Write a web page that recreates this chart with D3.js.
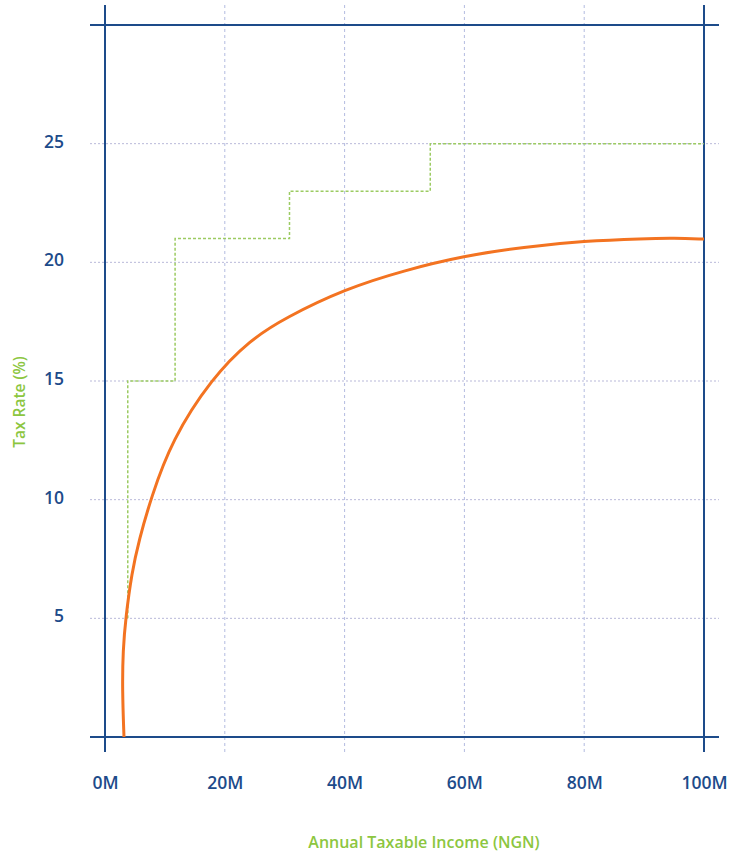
<!DOCTYPE html>
<html>
<head>
<meta charset="utf-8">
<script src="https://cdn.jsdelivr.net/npm/d3@7"></script>
<style>
  body { margin: 0; background: #fff; }
  text { font-family: "Open Sans", sans-serif; }
</style>
</head>
<body>
<div id="chart"></div>
<script>
// chart data (income in millions of NGN, rate in %)
var xTicks = [0, 20, 40, 60, 80, 100];
var yTicks = [5, 10, 15, 20, 25];

// marginal band steps
var stepIncome = [3.8, 3.8, 11.7, 30.8, 54.3, 100];
var stepRate   = [5, 15, 21, 23, 25, 25];

// effective rate curve
var effIncome = [3.17, 2.89, 3.0, 3.46, 4.46, 5.68, 7.68, 11.14, 17.86, 24.21, 30.05, 40.07, 49.92, 59.93, 69.95, 79.97, 89.98, 95, 100];
var effRate   = [0, 1.98, 3.67, 5.03, 6.91, 8.3, 10.07, 12.51, 15.13, 16.73, 17.66, 18.88, 19.66, 20.27, 20.65, 20.9, 21.0, 21.02, 20.98];

var width = 750, height = 854;
var navy = "#1d4b8a";
var ext = 15; // how far the frame lines run past the plot

var x = d3.scaleLinear().domain([0, 100]).range([105, 704]);
var y = d3.scaleLinear().domain([0, 30]).range([737, 25]);

var svg = d3.select("#chart").append("svg")
    .attr("width", width)
    .attr("height", height);

// horizontal grid
svg.append("g").selectAll("line")
    .data(yTicks)
    .enter().append("line")
    .attr("x1", x(0) - ext)
    .attr("x2", x(100) + ext)
    .attr("y1", function(d) { return y(d); })
    .attr("y2", function(d) { return y(d); })
    .attr("stroke", "#b9b9d9")
    .attr("stroke-width", 1)
    .attr("stroke-dasharray", "2,2");

// vertical grid
svg.append("g").selectAll("line")
    .data(xTicks.slice(1, -1))
    .enter().append("line")
    .attr("x1", function(d) { return x(d); })
    .attr("x2", function(d) { return x(d); })
    .attr("y1", y(30) - 20)
    .attr("y2", y(0) + ext)
    .attr("stroke", "#b3bbe0")
    .attr("stroke-width", 1)
    .attr("stroke-dasharray", "3,3");

// frame lines
var frame = svg.append("g")
    .attr("stroke", navy)
    .attr("stroke-width", 2);
[0, 30].forEach(function(v) {
  frame.append("line")
      .attr("x1", x(0) - ext).attr("x2", x(100) + ext)
      .attr("y1", y(v)).attr("y2", y(v));
});
[0, 100].forEach(function(v) {
  frame.append("line")
      .attr("x1", x(v)).attr("x2", x(v))
      .attr("y1", y(30) - 20).attr("y2", y(0) + ext);
});

// tick labels
var xAxis = d3.axisBottom(x)
    .tickValues(xTicks)
    .tickSize(0)
    .tickPadding(0)
    .tickFormat(function(d) { return d + "M"; });
var xg = svg.append("g")
    .attr("transform", "translate(0," + 777 + ")")
    .call(xAxis);
xg.select(".domain").remove();
xg.selectAll("text")
    .attr("fill", navy)
    .attr("font-size", 17.5)
    .attr("font-weight", 600)
    .attr("font-family", "'Open Sans', sans-serif");

var yAxis = d3.axisLeft(y)
    .tickValues(yTicks)
    .tickSize(0)
    .tickPadding(0);
var yg = svg.append("g")
    .attr("transform", "translate(64,-2)")
    .call(yAxis);
yg.select(".domain").remove();
yg.selectAll("text")
    .attr("fill", navy)
    .attr("font-size", 17.5)
    .attr("font-weight", 600)
    .attr("font-family", "'Open Sans', sans-serif");

// step line
var steps = stepIncome.map(function(d, i) { return [d, stepRate[i]]; });
svg.append("path")
    .datum(steps)
    .attr("fill", "none")
    .attr("stroke", "#9ccb62")
    .attr("stroke-width", 1.5)
    .attr("stroke-dasharray", "3,2")
    .attr("d", d3.line()
        .x(function(d) { return x(d[0]); })
        .y(function(d) { return y(d[1]); })
        .curve(d3.curveStepAfter));

// effective rate curve
var eff = effIncome.map(function(d, i) { return [d, effRate[i]]; });
svg.append("path")
    .datum(eff)
    .attr("fill", "none")
    .attr("stroke", "#f37321")
    .attr("stroke-width", 3)
    .attr("d", d3.line()
        .x(function(d) { return x(d[0]); })
        .y(function(d) { return y(d[1]); })
        .curve(d3.curveBasis));

// axis titles
svg.append("text")
    .attr("x", 424)
    .attr("y", 848)
    .attr("text-anchor", "middle")
    .attr("fill", "#8cc63f")
    .attr("font-size", 16)
    .attr("font-weight", 600)
    .text("Annual Taxable Income (NGN)");

svg.append("text")
    .attr("transform", "translate(25,402) rotate(-90)")
    .attr("text-anchor", "middle")
    .attr("fill", "#8cc63f")
    .attr("font-size", 15.5)
    .attr("font-weight", 600)
    .text("Tax Rate (%)");
</script>
</body>
</html>
